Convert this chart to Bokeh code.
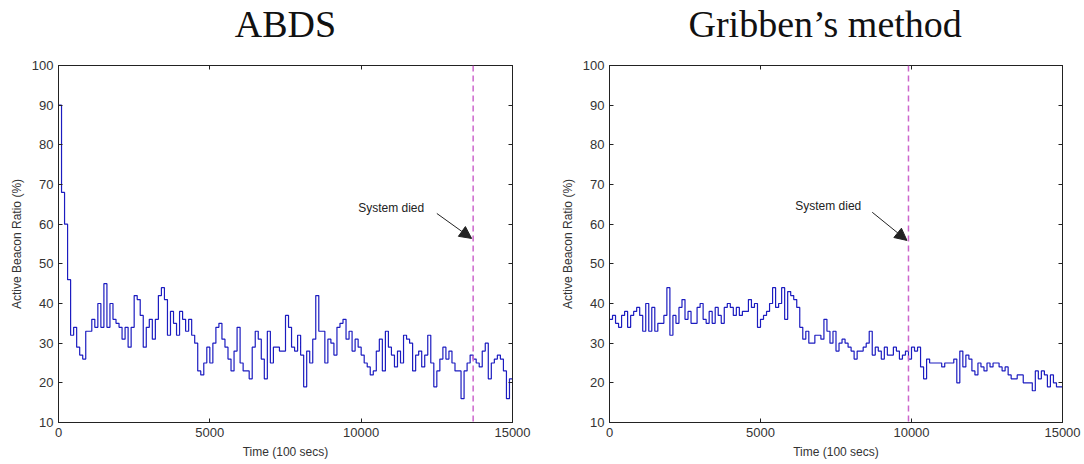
from bokeh.plotting import figure
from bokeh.layouts import row
from bokeh.models import (LinearAxis, FixedTicker, Span, Label, Arrow, NormalHead,
                          Range1d, Title)
from bokeh.embed import file_html
from bokeh.resources import INLINE

# ---------------- data (step every 100 time units) ----------------
STEP = 100
abds_ratio = [
    90, 68, 60, 46, 32, 34, 29, 27, 26, 33, 33, 36, 34, 40, 34, 45, 34, 40, 36, 35,
    34, 31, 34, 29, 34, 42, 41, 37, 29, 34, 36, 31, 36, 42, 44, 41, 32, 38, 35, 32,
    38, 36, 33, 36, 32, 30, 23, 22, 25, 29, 25, 30, 34, 35, 31, 29, 26, 23, 28, 34,
    25, 23, 23, 21, 29, 33, 31, 26, 21, 33, 25, 29, 29, 28, 28,
    37, 34, 29, 28, 32, 27, 19, 28, 25, 31, 42, 33, 33, 25, 31, 30, 27, 34, 35, 36,
    31, 33, 28, 31, 29, 27, 25, 24, 22, 23, 28, 31, 23, 33, 29, 27, 24, 28, 25, 32,
    31, 30, 23, 27, 28, 24, 27, 32, 25, 19, 23, 26, 29, 26, 28, 25, 23, 23, 16, 23,
    25, 27, 26, 25, 24, 28, 30, 21, 25, 26, 27, 26, 23, 16, 21,
]
gribben_ratio = [
    36, 37, 35, 34, 37, 38, 34, 37, 38, 39, 37, 33, 40, 33, 39, 33, 35, 35, 37, 44,
    32, 37, 35, 39, 41, 36, 38, 35, 35, 39, 40, 36, 35, 38, 35, 39, 37, 35, 39, 40,
    39, 37, 39, 37, 38, 38, 41, 39, 40, 34, 36, 37, 38, 40, 44, 39, 40, 44, 36, 43,
    42, 41, 39, 34, 31, 33, 30, 30, 32, 32, 31, 36, 33, 30,
    33, 28, 30, 31, 30, 29, 28, 26, 28, 28, 29, 30, 33, 27, 29, 28, 26, 29, 27, 27,
    29, 28, 26, 27, 28, 26, 29, 28, 29, 24, 21, 26, 25, 25, 25, 25, 24, 25, 25, 25,
    26, 20, 28, 24, 27, 26, 23, 22, 25, 24, 23, 25, 24, 25, 25, 24, 23, 24, 22, 21,
    21, 22, 22, 20, 20, 20, 18, 23, 21, 23, 22, 19, 22, 20, 19, 19,
]
abds_died = 13700
gribben_died = 9900
x_ticks = [0, 5000, 10000, 15000]
y_ticks = [10, 20, 30, 40, 50, 60, 70, 80, 90, 100]

FONT = "Liberation Sans"
LINE = "#1c1cc0"


def panel(title, talign, toff, vals, died, txt_xy, arr, fw, bl, br, bt, bb):
    p = figure(frame_width=fw, frame_height=357, output_backend="svg",
               toolbar_location=None, x_range=Range1d(0, 15000), y_range=Range1d(10, 100),
               min_border_left=bl, min_border_right=br, min_border_top=bt,
               min_border_bottom=bb, title=title)
    p.title.text_font = "Liberation Serif"
    p.title.text_font_size = "38px"
    p.title.text_font_style = "normal"
    p.title.text_color = "#111111"
    p.title.align = talign
    p.title.offset = toff
    p.title.standoff = 0
    p.grid.visible = False
    p.outline_line_color = "#222222"
    p.background_fill_color = "white"
    p.border_fill_color = "white"

    t = [i * STEP for i in range(len(vals))] + [15000]
    v = list(vals) + [vals[-1]]
    p.step(t, v, mode="after", line_color=LINE, line_width=1.2)

    p.add_layout(Span(location=died, dimension="height", line_color="#cc66cc",
                      line_dash="6 4", line_width=1.5))
    p.add_layout(Label(x=txt_xy[0], y=txt_xy[1], text="System died",
                       text_font=FONT, text_font_size="12px", text_color="#222222",
                       text_baseline="middle"))
    p.add_layout(Arrow(x_start=arr[0], y_start=arr[1], x_end=arr[2], y_end=arr[3],
                       line_color="#222222", line_width=1,
                       end=NormalHead(size=12, fill_color="#222222", line_color="#222222")))

    for ax in (p.xaxis[0], p.yaxis[0]):
        ax.major_tick_in = 4
        ax.major_tick_out = 0
        ax.minor_tick_line_color = None
        ax.axis_line_color = "#222222"
        ax.major_tick_line_color = "#222222"
        ax.major_label_text_font = FONT
        ax.major_label_text_font_size = "13px"
        ax.major_label_text_color = "#333333"
        ax.axis_label_text_font = FONT
        ax.axis_label_text_font_size = "12px"
        ax.axis_label_text_font_style = "normal"
        ax.axis_label_text_color = "#333333"
        ax.major_label_standoff = 5
        ax.axis_label_standoff = 5
    p.xaxis[0].ticker = FixedTicker(ticks=x_ticks)
    p.yaxis[0].ticker = FixedTicker(ticks=y_ticks)
    p.xaxis[0].axis_label = "Time (100 secs)"
    p.yaxis[0].axis_label = "Active Beacon Ratio (%)"

    top = LinearAxis(ticker=FixedTicker(ticks=x_ticks),
                     major_label_overrides={k: "" for k in x_ticks})
    right = LinearAxis(ticker=FixedTicker(ticks=y_ticks),
                       major_label_overrides={k: "" for k in y_ticks})
    for ax in (top, right):
        ax.major_tick_in = 4
        ax.major_tick_out = 0
        ax.minor_tick_line_color = None
        ax.axis_line_color = "#222222"
        ax.major_tick_line_color = "#222222"
        ax.major_label_text_font_size = "1px"
        ax.major_label_standoff = 0
    p.add_layout(top, "above")
    # blank spacer between the frame and the heading
    p.add_layout(Title(text=" ", text_font_size="1px", text_color="white",
                       standoff=18), "above")
    p.add_layout(right, "right")
    return p


p1 = panel("ABDS", "center", 0, abds_ratio, abds_died, (9900, 64.2),
           (12500, 62.7, 13650, 56.4), 454, 58, 30, 65, 42)
p2 = panel("Gribben\u2019s method", "left", 79, gribben_ratio, gribben_died, (6150, 64.7),
           (8700, 63.0, 9850, 55.9), 453, 67, 22, 63, 44)

layout = row(p1, p2)
open("out.html", "w").write(file_html(layout, INLINE))
